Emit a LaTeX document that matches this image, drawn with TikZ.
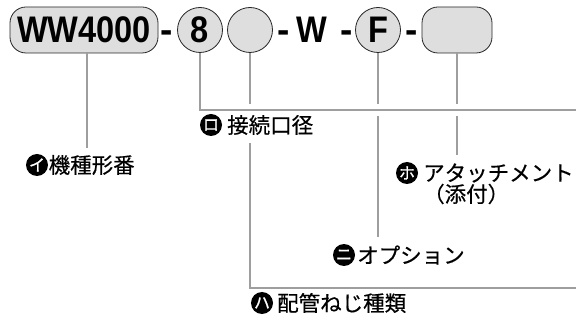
\documentclass[tikz,border=0pt]{standalone}
\usepackage{fontspec}
\setmainfont{Liberation Sans}
\newfontfamily\jp[FakeBold=0.4]{Noto Sans CJK JP}
\newfontfamily\jpb[FakeBold=1.2]{Noto Sans CJK JP}
\begin{document}
\begin{tikzpicture}[x=1pt,y=-1pt,
  code/.style={font=\bfseries\fontsize{37}{37}\selectfont, inner sep=0pt},
  pill/.style={draw=black!85, line width=0.8pt, fill=black!13, rounded corners=16pt, minimum height=46pt, inner sep=0pt},
  circ/.style={draw=black!85, line width=0.8pt, fill=black!13, circle, minimum size=45pt, inner sep=0pt},
  lead/.style={draw=black!38, line width=2pt},
  badge/.style={circle, fill=black, text=white, minimum size=22pt, inner sep=0pt, font=\jpb\fontsize{16}{16}\selectfont},
  lbl/.style={font=\jp\fontsize{21.5}{24}\selectfont, inner sep=0pt, anchor=west}]
\useasboundingbox (0,0) rectangle (576,320);

% top row
\node[pill, minimum width=148pt, code] (ww) at (84,30) {\scalebox{0.88}[1]{WW4000}};
\node[code, anchor=base] (d1) at (167,43) {-};
\node[circ, code] (c8) at (200,30) {\scalebox{0.88}[1]{8}};
\node[circ] (c2) at (250,30) {};
\node[code, anchor=base] (d2) at (283.5,43) {-};
\node[code, anchor=base] (w) at (312,43) {\scalebox{0.88}[1]{W}};
\node[code, anchor=base] (d3) at (346.5,43) {-};
\node[circ, code] (cf) at (378,30) {\scalebox{0.88}[1]{F}};
\node[code, anchor=base] (d4) at (411.5,43) {-};
\node[pill, minimum width=70pt] (bx) at (457,30) {};

% coordinates
\coordinate (e1) at (576,110);
\coordinate (e2) at (576,288);
\coordinate (a1) at ([xshift=3pt]ww.south |- 0,148);
\coordinate (b1) at (250,104);
\coordinate (b2) at (250,143);
\coordinate (f1) at (378,104);
\coordinate (f2) at (378,116);
\coordinate (f3) at (378,237);
\coordinate (h1) at (457,104);
\coordinate (h2) at (457,116);
\coordinate (h3) at (457,155);

% leaders
\draw[lead] ([xshift=3pt]ww.south) -- (a1);
\draw[lead] (c8.south) |- (e1);
\draw[lead] (c2.south) -- (b1);
\draw[lead] (b2) |- (e2);
\draw[lead] (cf.south) -- (f1);
\draw[lead] (f2) -- (f3);
\draw[lead] (bx.south) -- (h1);
\draw[lead] (h2) -- (h3);

% labels
\node[badge] (bi) at (37,165) {イ};
\node[lbl] (ti) at (48.5,165) {機種形番};
\node[badge] (bro) at (211,125) {ロ};
\node[lbl] (tro) at (227,125) {接続口径};
\node[badge] (bho) at (407,173) {ホ};
\node[lbl] (tho) at (423,173) {アタッチメント};
\node[lbl] (tho2) at (423,194) {（添付）};
\node[badge] (bni) at (344,255) {ニ};
\node[lbl] (tni) at (357,255) {オプション};
\node[badge] (bha) at (262,303) {ハ};
\node[lbl] (tha) at (277,303) {配管ねじ種類};
\end{tikzpicture}
\end{document}
